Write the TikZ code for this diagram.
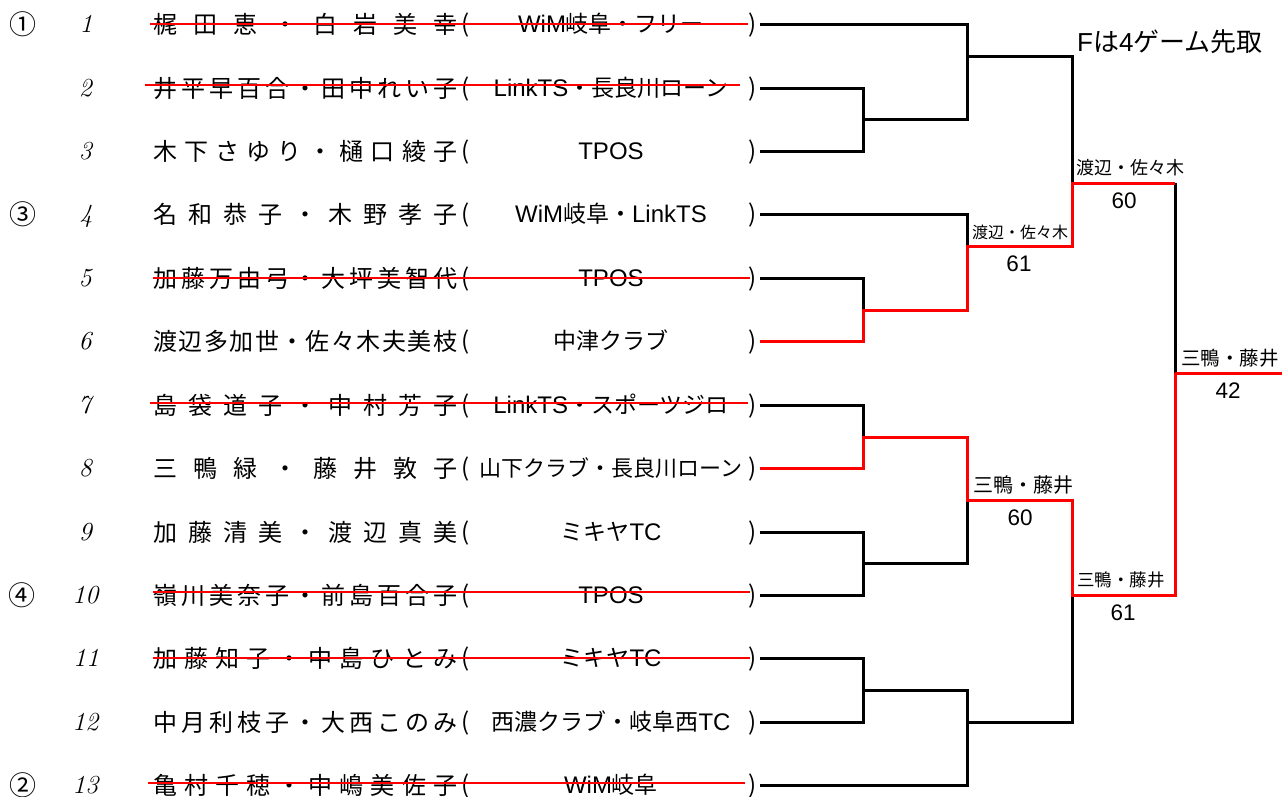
\documentclass[tikz,border=0pt]{standalone}
\usepackage{fontspec}
\newfontfamily\jp{Noto Sans CJK JP}
\newfontfamily\lat{Liberation Sans}
\definecolor{rd}{RGB}{255,0,0}
% spread the characters of a name evenly over a fixed width
\def\sprend{\sprend}
\def\sprloop#1{\ifx#1\sprend\else\hfil#1\expandafter\sprloop\fi}
\def\nmfirst#1{#1\sprloop}
\newcommand\nm[1]{\makebox[304pt][s]{\nmfirst#1\sprend}}
\newcommand\ltn{\lat\fontsize{24}{24}\selectfont}
\tikzset{
  br/.style={line width=3pt, black, line join=miter},
  win/.style={line width=3pt, rd, line join=miter},
  strike/.style={line width=1.7pt, rd},
  numst/.style={anchor=base, inner sep=0pt, font=\fontsize{26}{26}\selectfont},
  seedst/.style={anchor=base, inner sep=0pt, font=\jp\fontsize{27}{27}\selectfont},
  nmst/.style={anchor=base west, inner sep=0pt, font=\jp\fontsize{24}{24}\selectfont},
  parst/.style={anchor=base, inner sep=0pt, font=\jp\fontsize{24}{24}\selectfont},
  clst/.style={anchor=base, inner sep=0pt, font=\jp\fontsize{23}{23}\selectfont},
  lab/.style={anchor=base west, inner sep=0pt},
  score/.style={anchor=base, inner sep=0pt, font=\lat\fontsize{22.5}{22.5}\selectfont},
}
\newcommand\teamrow[4]{%
  \node[numst] (k#1) at (86,#2+8.4) {\textit{#1}};
  \node[nmst] (n#1) at (153,#2+9) {\nm{#3}};
  \node[parst] (po#1) at (466,#2+8) {(};
  \node[parst] (pc#1) at (753,#2+8) {)};
  \node[clst] (c#1) at (611,#2+8.5) {#4};
  \coordinate (e#1) at (760,#2);
}
\begin{document}
\begin{tikzpicture}[x=1pt,y=-1pt]
\useasboundingbox (0,0) rectangle (1282,796);
\fill[white] (0,0) rectangle (1282,796);

% seeds
\node[seedst] (sd1) at (23,24+10) {①};
\node[seedst] (sd3) at (23,214+10) {③};
\node[seedst] (sd4) at (22,595+10) {④};
\node[seedst] (sd2) at (23,785+10) {②};

% rows
\teamrow{1}{24}{梶田恵・白岩美幸}{{\ltn WiM}岐阜・フリー}
\teamrow{2}{88}{井平早百合・田中れい子}{{\ltn LinkTS}・長良川ローン}
\teamrow{3}{151}{木下さゆり・樋口綾子}{{\ltn TPOS}}
\teamrow{4}{214}{名和恭子・木野孝子}{{\ltn WiM}岐阜・{\ltn LinkTS}}
\teamrow{5}{278}{加藤万由弓・大坪美智代}{{\ltn TPOS}}
\teamrow{6}{341}{渡辺多加世・佐々木夫美枝}{中津クラブ}
\teamrow{7}{405}{島袋道子・中村芳子}{{\ltn LinkTS}・スポーツジロ}
\teamrow{8}{468}{三鴨緑・藤井敦子}{{\fontsize{22}{22}\selectfont 山下クラブ・長良川ローン}}
\teamrow{9}{532}{加藤清美・渡辺真美}{ミキヤ{\ltn TC}}
\teamrow{10}{595}{嶺川美奈子・前島百合子}{{\ltn TPOS}}
\teamrow{11}{658}{加藤知子・中島ひとみ}{ミキヤ{\ltn TC}}
\teamrow{12}{722}{中月利枝子・大西このみ}{西濃クラブ・岐阜西{\ltn TC}}
\teamrow{13}{785}{亀村千穂・中嶋美佐子}{{\ltn WiM}岐阜}

% strike-through lines for withdrawn pairs
\draw[strike] (150,24) -- (748,24);
\draw[strike] (145,85) -- (740,85);
\draw[strike] (153,278) -- (750,278);
\draw[strike] (150,403) -- (748,403);
\draw[strike] (153,592) -- (750,592);
\draw[strike] (153,658) -- (750,658);
\draw[strike] (148,783) -- (745,783);

% junctions
\coordinate (j1a) at (863,119);
\coordinate (j1b) at (863,310);
\coordinate (j1c) at (863,437);
\coordinate (j1d) at (863,563);
\coordinate (j1e) at (863,690);
\coordinate (j2a) at (967,56);
\coordinate (j2b) at (967,246);
\coordinate (j2c) at (967,500);
\coordinate (j2d) at (967,722);
\coordinate (j3a) at (1072,183);
\coordinate (j3b) at (1072,595);
\coordinate (j4) at (1175,373);
\coordinate (fin) at (1282,373);

% black bracket lines
\draw[br] (e1) -- (e1 -| j2a) -- (j2a |- j1a) -- (j1a);
\draw[br] (e2) -| (j1a);
\draw[br] (e3) -| (j1a);
\draw[br] (j2a) -- (j2a -| j3a) -- (j3a);
\draw[br] (e4) -| (j2b);
\draw[br] (e5) -| (j1b);
\draw[br] (j3a -| j4) -- (j4);
\draw[br] (e7) -| (j1c);
\draw[br] (e9) -| (j1d);
\draw[br] (e10) -| (j1d);
\draw[br] (j1d) -- (j1d -| j2c) -- (j2c);
\draw[br] (e11) -| (j1e);
\draw[br] (e12) -| (j1e);
\draw[br] (j1e) -| (e13 -| j2d) -- (e13);
\draw[br] (j2d) -- (j2d -| j3b) -- (j3b);

% winners' paths
\draw[win] (e6) -| (j1b) -- (j1b -| j2b) -- (j2b) -- (j2b -| j3a) -- (j3a) -- (j3a -| j4);
\draw[win] (e8) -| (j1c) -- (j1c -| j2c) -- (j2c) -- (j2c -| j3b) -- (j3b) -- (j3b -| j4) -- (j4);
\draw[win] (j4) -- (fin);

% labels and scores
\node[lab, font=\jp\fontsize{26}{26}\selectfont] (rule) at (1077,42+9.6) {{\lat F}は{\lat 4}ゲーム先取};
\node[lab, font=\jp\fontsize{16}{16}\selectfont] (w2b) at (972,232+6) {渡辺・佐々木};
\node[score] (sc2b) at (1019,263+8) {61};
\node[lab, font=\jp\fontsize{18}{18}\selectfont] (w3a) at (1076,168+6.7) {渡辺・佐々木};
\node[score] (sc3a) at (1124,200+8) {60};
\node[lab, font=\jp\fontsize{19.5}{19.5}\selectfont] (w4) at (1181,358+7.2) {三鴨・藤井};
\node[score] (sc4) at (1228,390+8) {42};
\node[lab, font=\jp\fontsize{20}{20}\selectfont] (w2c) at (973,485+7.4) {三鴨・藤井};
\node[score] (sc2c) at (1020,517+8) {60};
\node[lab, font=\jp\fontsize{17.5}{17.5}\selectfont] (w3b) at (1077,580+6.5) {三鴨・藤井};
\node[score] (sc3b) at (1123,612+8) {61};
\end{tikzpicture}
\end{document}
